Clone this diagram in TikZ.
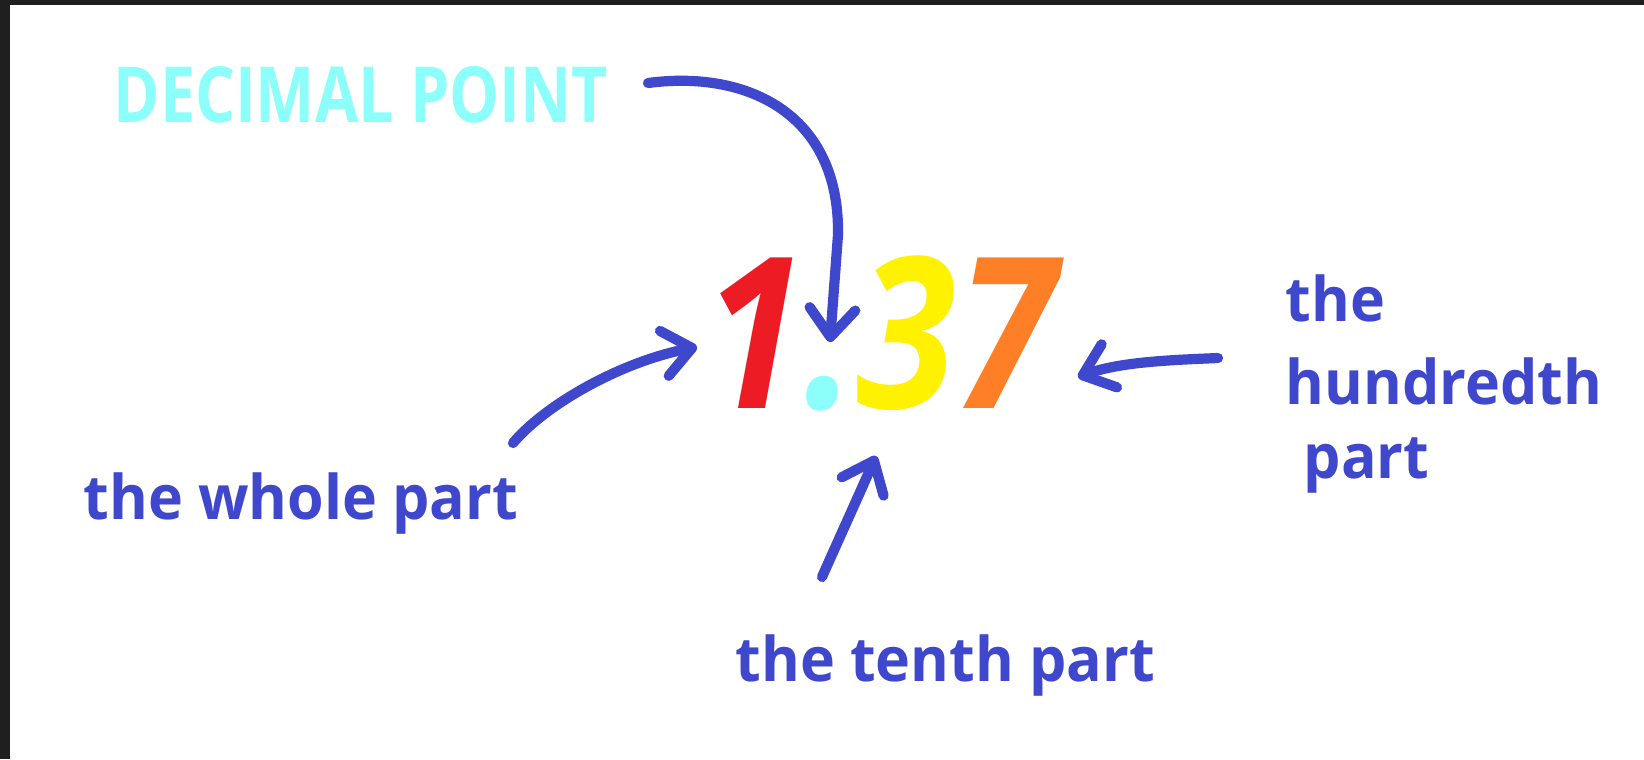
\documentclass[tikz,border=0pt]{standalone}
\usepackage{fontspec}
\setmainfont{Open Sans}
\usetikzlibrary{arrows.meta}
\definecolor{penblue}{RGB}{63,72,204}
\definecolor{dotcyan}{RGB}{140,255,250}
\definecolor{onered}{RGB}{237,28,36}
\definecolor{threeyellow}{RGB}{255,242,0}
\definecolor{sevenorange}{RGB}{255,127,39}

\begin{document}
\begin{tikzpicture}[x=0.01cm, y=-0.01cm,
    lbl/.style={text=penblue, inner sep=0pt, anchor=base west, xscale=0.96, font=\bfseries\fontsize{17.5}{21}\selectfont},
    pen/.style={draw=penblue, line width=2.9pt, line cap=round, line join=round, -{Straight Barb[length=8pt, width=13pt, round]}}]
    \fill[black!88] (0,0) rectangle (1644,759);
    \fill[white] (10,5) rectangle (1644,759);
    \useasboundingbox (0,0) rectangle (1644,759);
    % texts
    \node[lbl, text=dotcyan, xscale=0.845, font=\bfseries\fontsize{22}{26}\selectfont] (dp) at (113,122) {DECIMAL POINT};
    \node[inner sep=0pt, anchor=base west, xscale=0.86, font=\bfseries\itshape\fontsize{60}{70}\selectfont] (num) at (704,408)
        {\textcolor{onered}{1}\textcolor{dotcyan}{.}\textcolor{threeyellow}{3}\textcolor{sevenorange}{7}};
    \node[lbl] (whole) at (83,519) {the whole part};
    \node[lbl] (tenth) at (735,681) {the tenth part};
    \node[lbl] (hund1) at (1285,321) {the};
    \node[lbl] (hund2) at (1285,404) {hundredth};
    \node[lbl] (hund3) at (1303,478) {part};
    % arrow ends
    \coordinate (dpS) at (648,83);
    \coordinate (dpT) at (830,342);
    \coordinate (wS) at (513,443);
    \coordinate (wT) at (697,347);
    \coordinate (tS) at (822,577);
    \coordinate (tT) at (876,456);
    \coordinate (hS) at (1218,358);
    \coordinate (hT) at (1078,377);
    % arrows
    \draw[pen] (dpS) .. controls (745,70) and (840,112) .. (838,235) -- (dpT);
    \draw[pen] (wS) .. controls (545,405) and (620,362) .. (wT);
    \draw[pen] (tS) .. controls (838,541) and (858,497) .. (tT);
    \draw[pen] (hS) .. controls (1170,360) and (1120,362) .. (hT);
\end{tikzpicture}
\end{document}
